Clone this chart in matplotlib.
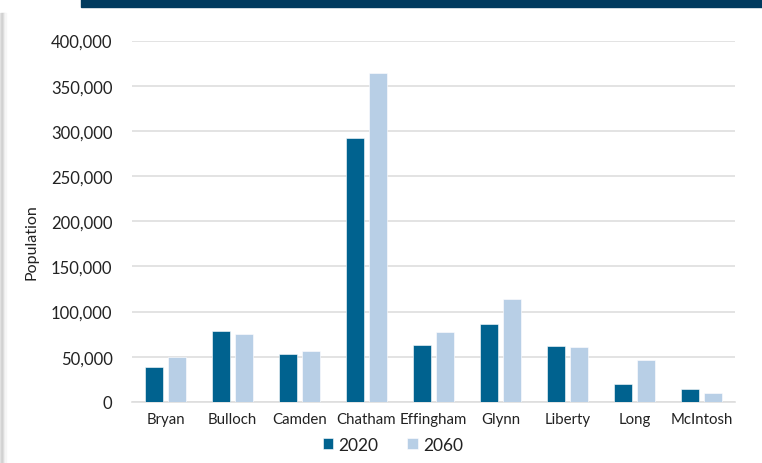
import matplotlib.pyplot as plt
import numpy as np
from matplotlib.patches import Rectangle
from matplotlib.ticker import FuncFormatter

counties = ["Bryan", "Bulloch", "Camden", "Chatham", "Effingham",
            "Glynn", "Liberty", "Long", "McIntosh"]
pop_2020 = [39000, 79000, 53500, 292500, 63500, 86000, 61500, 19500, 14000]
pop_2060 = [49500, 75000, 56500, 363500, 77000, 114500, 60500, 47000, 10000]
series_labels = ["2020", "2060"]

DARK = "#00628f"
LIGHT = "#b8cfe6"
NAVY = "#003a5e"
GRID = "#dedede"
TEXT = "#222222"

plt.rcParams["font.family"] = ["Lato", "DejaVu Sans"]

fig = plt.figure(figsize=(7.62, 4.64), dpi=100)
W, H = 762, 464

# card header strip and soft left shadow
fig.patches.append(Rectangle((81 / W, 1 - 7.5 / H), 1, 7.5 / H,
                             transform=fig.transFigure, color=NAVY,
                             zorder=0))
for i, shade in enumerate(["#e4e4e4", "#d6d6d6", "#cfcfcf", "#dadada",
                           "#ececec", "#f6f6f6"]):
    fig.patches.append(Rectangle((i / W, 0), 1 / W, 1 - 14 / H,
                                 transform=fig.transFigure, color=shade,
                                 zorder=0))

ax = fig.add_axes([132 / W, 1 - 403 / H, 603 / W, 361.5 / H])
x = np.arange(len(counties))
width = 0.264
offset = 0.168
ax.bar(x - offset, pop_2020, width, color=DARK, edgecolor="#ffffff",
       linewidth=0.4, label=series_labels[0], zorder=3)
ax.bar(x + offset, pop_2060, width, color=LIGHT, edgecolor="#ffffff",
       linewidth=0.4, label=series_labels[1], zorder=3)

ax.set_xlim(-0.5, len(counties) - 0.5)
ax.set_ylim(0, 400000)
ax.set_yticks(np.arange(0, 400001, 50000))
ax.yaxis.set_major_formatter(FuncFormatter(lambda v, _: f"{int(v):,}"))
ax.set_xticks(x)
ax.set_xticklabels(counties)
ax.grid(axis="y", color=GRID, linewidth=1.2, zorder=0)
ax.tick_params(axis="y", length=0, pad=14, labelsize=12, labelcolor=TEXT)
ax.tick_params(axis="x", length=0, pad=7, labelsize=10.8, labelcolor=TEXT)
for side in ["top", "right", "left"]:
    ax.spines[side].set_visible(False)
ax.spines["bottom"].set_color(GRID)
ax.spines["bottom"].set_linewidth(1.2)
ax.set_facecolor("none")

fig.text(31 / W, 1 - 242 / H, "Population", rotation=90, ha="center",
         va="center", fontsize=11.5, color=TEXT)

ax.legend(loc="center", bbox_to_anchor=(393 / W, 1 - 446 / H),
          bbox_transform=fig.transFigure, ncol=2, frameon=False,
          fontsize=12.5, handlelength=0.6, handleheight=0.6,
          handletextpad=0.3, columnspacing=1.65, labelcolor=TEXT)

fig.savefig("out.png", dpi=100)
